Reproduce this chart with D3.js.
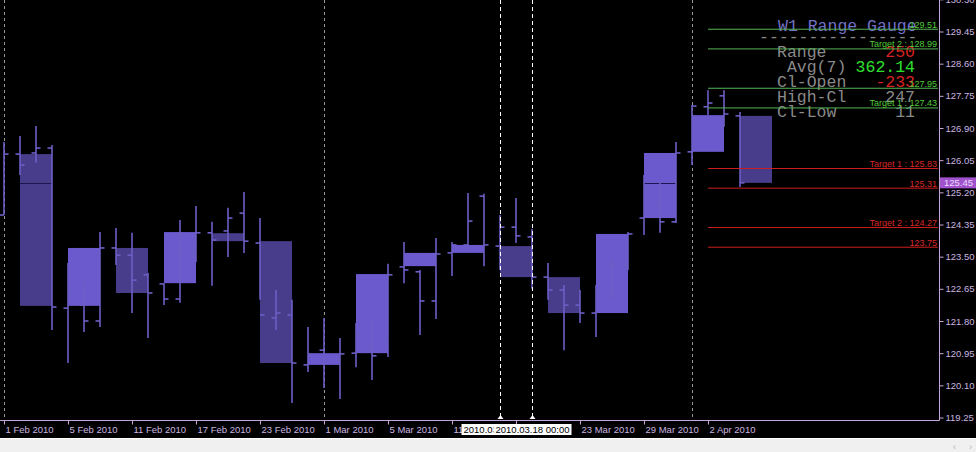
<!DOCTYPE html>
<html>
<head>
<meta charset="utf-8">
<script src="https://cdn.jsdelivr.net/npm/d3@7"></script>
<style>
  body { margin: 0; background: #000; overflow: hidden; }
  svg { display: block; }
</style>
</head>
<body>
<div id="chart"></div>
<script>
// daily bars, USDJPY-like D1 chart
const dates = [
  "2010-02-01","2010-02-02","2010-02-03","2010-02-04","2010-02-05",
  "2010-02-08","2010-02-09","2010-02-10","2010-02-11","2010-02-12",
  "2010-02-15","2010-02-16","2010-02-17","2010-02-18","2010-02-19",
  "2010-02-22","2010-02-23","2010-02-24","2010-02-25","2010-02-26",
  "2010-03-01","2010-03-02","2010-03-03","2010-03-04","2010-03-05",
  "2010-03-08","2010-03-09","2010-03-10","2010-03-11","2010-03-12",
  "2010-03-15","2010-03-16","2010-03-17","2010-03-18","2010-03-19",
  "2010-03-22","2010-03-23","2010-03-24","2010-03-25","2010-03-26",
  "2010-03-29","2010-03-30","2010-03-31","2010-04-01","2010-04-02",
  "2010-04-05","2010-04-06"
];
const open  = [124.60,126.21,126.24,126.37,122.14,122.22,121.80,123.73,123.54,123.02,
               122.78,122.38,123.68,124.13,124.18,124.65,123.86,121.88,121.96,120.64,
               121.03,120.77,120.95,121.11,121.30,123.23,123.10,122.33,123.60,123.81,
               125.10,123.78,124.28,124.02,122.96,122.62,122.22,122.01,122.62,123.28,
               124.52,124.87,124.42,126.27,127.46,127.75,127.22];
const high  = [126.53,126.69,126.95,126.45,123.33,122.80,124.15,124.26,124.13,123.07,
               122.80,124.47,124.84,124.42,124.79,125.21,124.52,122.62,122.36,121.64,
               121.88,121.35,121.75,121.80,123.31,123.89,123.15,123.99,123.89,125.18,
               125.16,124.60,125.05,124.23,123.33,122.75,122.62,122.75,123.41,124.15,
               125.66,125.45,126.53,127.51,127.90,127.90,127.32];
const low   = [124.60,125.66,125.98,121.56,120.69,121.51,121.64,123.28,122.01,121.35,
               122.22,122.28,123.36,122.73,123.49,123.60,122.36,121.56,119.63,120.45,
               120.03,119.74,120.58,120.24,120.85,122.80,121.43,121.85,122.99,123.68,
               123.25,123.15,123.86,122.65,122.36,121.03,121.75,121.38,122.36,123.15,
               124.07,124.13,124.39,125.92,127.24,126.93,125.34];
const close = [126.21,125.92,126.37,122.17,122.62,121.80,123.73,123.54,122.88,122.54,
               122.38,123.68,124.13,123.94,124.52,123.91,121.96,122.01,120.69,120.90,
               120.82,120.93,121.43,120.88,123.02,123.15,122.33,123.57,123.81,124.44,
               123.81,124.28,124.05,122.96,122.62,122.22,122.01,122.62,123.28,124.10,
               125.26,124.42,126.24,127.48,127.56,127.27,125.45];

// W1 Range Gauge candles (bodies only)
const weekOpen  = [126.21,122.20,123.73,122.80,124.12,123.91,120.64,120.95,
                   123.25,123.60,123.78,122.96,122.01,124.52,126.27,127.22];
const weekClose = [122.20,123.73,122.54,124.15,123.91,120.69,120.95,123.04,
                   123.60,123.81,122.96,122.01,124.10,126.24,127.24,125.45];

const priceTicks = [130.30,129.45,128.60,127.75,126.90,126.05,125.20,124.35,123.50,122.65,121.80,120.95,120.10,119.25];
const dateTicks = ["2010-02-01","2010-02-05","2010-02-11","2010-02-17","2010-02-23","2010-03-01",
                   "2010-03-05","2010-03-11","2010-03-17","2010-03-23","2010-03-29","2010-04-02"];
const markedDates = ["2010-03-16","2010-03-18"];
const bid = 125.45;

const upLevels   = [129.51, 128.99, 127.95, 127.43];
const upNames    = ["", "Target 2 : ", "", "Target 1 : "];
const downLevels = [125.83, 125.31, 124.27, 123.75];
const downNames  = ["Target 1 : ", "", "Target 2 : ", ""];

const gaugeRows   = ["Range", " Avg(7)", "Cl-Open", "High-Cl", "Cl-Low"];
const gaugeValues = ["250", "362.14", "-233", "247", "11"];
const gaugeColors = ["#d82222", "#2ee02e", "#d82222", "#8a8a8a", "#8a8a8a"];

const width = 976, height = 452,
    plotRight = 939, plotBottom = 420;

const parse = d3.utcParse("%Y-%m-%d");
const idx = d => dates.indexOf(d);

const svg = d3.select("#chart")
    .append("svg")
    .attr("width", width)
    .attr("height", height)
    .style("font-family", "'Liberation Sans', Arial, sans-serif");

svg.append("rect").attr("width", width).attr("height", height).attr("fill", "#000");

const x = d3.scaleLinear()
    .domain([0, dates.length - 1])
    .range([4, 740]);

const y = d3.scaleLinear()
    .domain([119.25, 129.45])
    .range([417.5, 31.5]);

const barColor = "#6c5fc6";

// period separators (first bar of each month)
const monthStarts = dates.filter((d, i) => i === 0 || d.slice(5, 7) !== dates[i - 1].slice(5, 7));
svg.append("g")
    .selectAll("line")
    .data(monthStarts)
    .join("line")
        .attr("x1", d => Math.round(x(idx(d))) + 0.5)
        .attr("x2", d => Math.round(x(idx(d))) + 0.5)
        .attr("y1", 0)
        .attr("y2", plotBottom)
        .attr("stroke", "#9a9a9a")
        .attr("stroke-dasharray", "3,3");

// weekly bodies
const weeks = weekOpen.map((o, k) => ({k, o, c: weekClose[k]}));
svg.append("g")
    .selectAll("rect")
    .data(weeks)
    .join("rect")
        .attr("x", d => x(3 * d.k + 1))
        .attr("width", d => x(3 * d.k + 3) - x(3 * d.k + 1))
        .attr("y", d => y(Math.max(d.o, d.c)))
        .attr("height", d => Math.abs(y(d.o) - y(d.c)))
        .attr("fill", d => d.c >= d.o ? "#6a5acd" : "#483d8b");

// bid line: dark, only shows where it crosses a body
svg.append("g")
    .selectAll("line")
    .data(weeks.filter(d => bid < Math.max(d.o, d.c) && bid > Math.min(d.o, d.c)))
    .join("line")
        .attr("x1", d => x(3 * d.k + 1)).attr("x2", d => x(3 * d.k + 3))
        .attr("y1", Math.round(y(bid)) + 0.5).attr("y2", Math.round(y(bid)) + 0.5)
        .attr("stroke", "#1c1650");

// OHLC bars
const bars = svg.append("g")
    .attr("stroke", barColor)
    .attr("stroke-width", 1.6)
    .selectAll("g")
    .data(dates.map((d, i) => ({i, o: open[i], h: high[i], l: low[i], c: close[i]})))
    .join("g");
bars.append("line")
    .attr("x1", d => x(d.i)).attr("x2", d => x(d.i))
    .attr("y1", d => y(d.h)).attr("y2", d => y(d.l));
bars.append("line")
    .attr("x1", d => x(d.i) - 4.5).attr("x2", d => x(d.i))
    .attr("y1", d => y(d.o)).attr("y2", d => y(d.o));
bars.append("line")
    .attr("x1", d => x(d.i)).attr("x2", d => x(d.i) + 4.5)
    .attr("y1", d => y(d.c)).attr("y2", d => y(d.c));

// marked vertical lines
svg.append("g")
    .selectAll("line")
    .data(markedDates)
    .join("line")
        .attr("x1", d => x(idx(d)) + 0.5)
        .attr("x2", d => x(idx(d)) + 0.5)
        .attr("y1", 0)
        .attr("y2", plotBottom)
        .attr("stroke", "#ffffff")
        .attr("stroke-dasharray", "4,3");
svg.append("g")
    .selectAll("path")
    .data(markedDates)
    .join("path")
        .attr("d", d => { const px = x(idx(d)) + 0.5; return `M${px - 3},${plotBottom - 1}L${px},${plotBottom - 5}L${px + 3},${plotBottom - 1}Z`; })
        .attr("fill", "#fff");

// gauge panel
const mono = "'Liberation Mono', 'Courier New', monospace";
svg.append("text")
    .attr("x", 778).attr("y", 31)
    .attr("font-family", mono).attr("font-size", 16.5)
    .attr("fill", "#7272c8")
    .text("W1 Range Gauge");
svg.append("text")
    .attr("x", 759).attr("y", 42)
    .attr("font-family", mono).attr("font-size", 16.5)
    .attr("fill", "#8a8a8a")
    .text("----------------");
svg.append("g")
    .selectAll("text")
    .data(gaugeRows)
    .join("text")
        .attr("x", 777).attr("y", (d, i) => 56.5 + i * 15)
        .attr("font-family", mono).attr("font-size", 16.5)
        .attr("fill", "#8a8a8a")
        .style("white-space", "pre")
        .text(d => d);
svg.append("g")
    .selectAll("text")
    .data(gaugeValues)
    .join("text")
        .attr("x", 915).attr("y", (d, i) => 56.5 + i * 15)
        .attr("text-anchor", "end")
        .attr("font-family", mono).attr("font-size", 16.5)
        .attr("fill", (d, i) => gaugeColors[i])
        .text(d => d);

// target levels, over the gauge text
const levelLines = (levels, names, lineColor, textColor) => {
    const g = svg.append("g");
    g.selectAll("line")
        .data(levels)
        .join("line")
            .attr("x1", 708).attr("x2", plotRight - 1)
            .attr("y1", d => y(d)).attr("y2", d => y(d))
            .attr("stroke", lineColor);
    g.selectAll("text")
        .data(levels)
        .join("text")
            .attr("x", plotRight - 2)
            .attr("y", d => y(d) - 1.5)
            .attr("text-anchor", "end")
            .attr("font-size", 9)
            .attr("fill", textColor)
            .text((d, i) => names[i] + d3.format(".2f")(d));
};
levelLines(upLevels, upNames, "#55b455", "#50cc38");
levelLines(downLevels, downNames, "#cc1e1e", "#d82828");

// price axis
const axisColor = "#c6a6d8", labelColor = "#cbb6e2";
svg.append("line")
    .attr("x1", plotRight + 0.5).attr("x2", plotRight + 0.5)
    .attr("y1", 0).attr("y2", plotBottom + 0.5)
    .attr("stroke", axisColor);
svg.append("line")
    .attr("x1", 0).attr("x2", plotRight + 0.5)
    .attr("y1", plotBottom + 0.5).attr("y2", plotBottom + 0.5)
    .attr("stroke", axisColor);

const yAxis = svg.append("g")
    .attr("transform", `translate(${plotRight + 0.5},0)`)
    .call(d3.axisRight(y).tickValues(priceTicks).tickSize(4).tickPadding(2).tickFormat(d3.format(".2f")));
yAxis.select(".domain").remove();
yAxis.selectAll("line").attr("stroke", axisColor);
yAxis.selectAll("text").attr("fill", labelColor).attr("font-size", 9.5).attr("font-family", null);

const fmtDate = d3.utcFormat("%-d %b %Y");
const xAxis = svg.append("g")
    .attr("transform", `translate(0,${plotBottom + 0.5})`)
    .call(d3.axisBottom(x).tickValues(dateTicks.map(idx)).tickSize(4).tickPadding(2)
        .tickFormat(i => fmtDate(parse(dates[i]))));
xAxis.select(".domain").remove();
xAxis.selectAll("line").attr("stroke", axisColor);
xAxis.selectAll("text")
    .attr("fill", labelColor).attr("font-size", 9.5).attr("font-family", null)
    .attr("text-anchor", "start").attr("x", 1);

// current price label
svg.append("rect")
    .attr("x", plotRight + 1).attr("y", y(bid) - 5.5)
    .attr("width", width - plotRight - 1).attr("height", 11)
    .attr("fill", "#a052cc");
svg.append("text")
    .attr("x", plotRight + 5).attr("y", y(bid))
    .attr("dy", "0.34em")
    .attr("font-size", 9.5)
    .attr("fill", "#eedcff")
    .text(d3.format(".2f")(bid));

// time labels for the marked lines
const fmtStamp = d3.utcFormat("%Y.%m.%d %H:%M");
const stamps = svg.append("g")
    .selectAll("g")
    .data(markedDates)
    .join("g")
        .attr("transform", d => `translate(${x(idx(d)) + 0.5},${plotBottom + 4})`);
stamps.append("rect")
    .attr("x", -39).attr("y", 0)
    .attr("width", 78).attr("height", 11)
    .attr("fill", "#fff");
stamps.append("text")
    .attr("y", 9)
    .attr("text-anchor", "middle")
    .attr("font-size", 9.5)
    .attr("fill", "#000")
    .text(d => fmtStamp(parse(d)));

// bottom scroll strip
svg.append("rect")
    .attr("x", 0).attr("y", 438)
    .attr("width", width).attr("height", height - 438)
    .attr("fill", "#f0f0f0");
svg.append("line")
    .attr("x1", 0).attr("x2", width)
    .attr("y1", 438.5).attr("y2", 438.5)
    .attr("stroke", "#ffffff");
svg.append("text").attr("x", 953).attr("y", 450).attr("font-size", 9).attr("fill", "#b0b0b0").text("‹");
svg.append("text").attr("x", 969).attr("y", 450).attr("font-size", 9).attr("fill", "#b0b0b0").text("›");
</script>
</body>
</html>
